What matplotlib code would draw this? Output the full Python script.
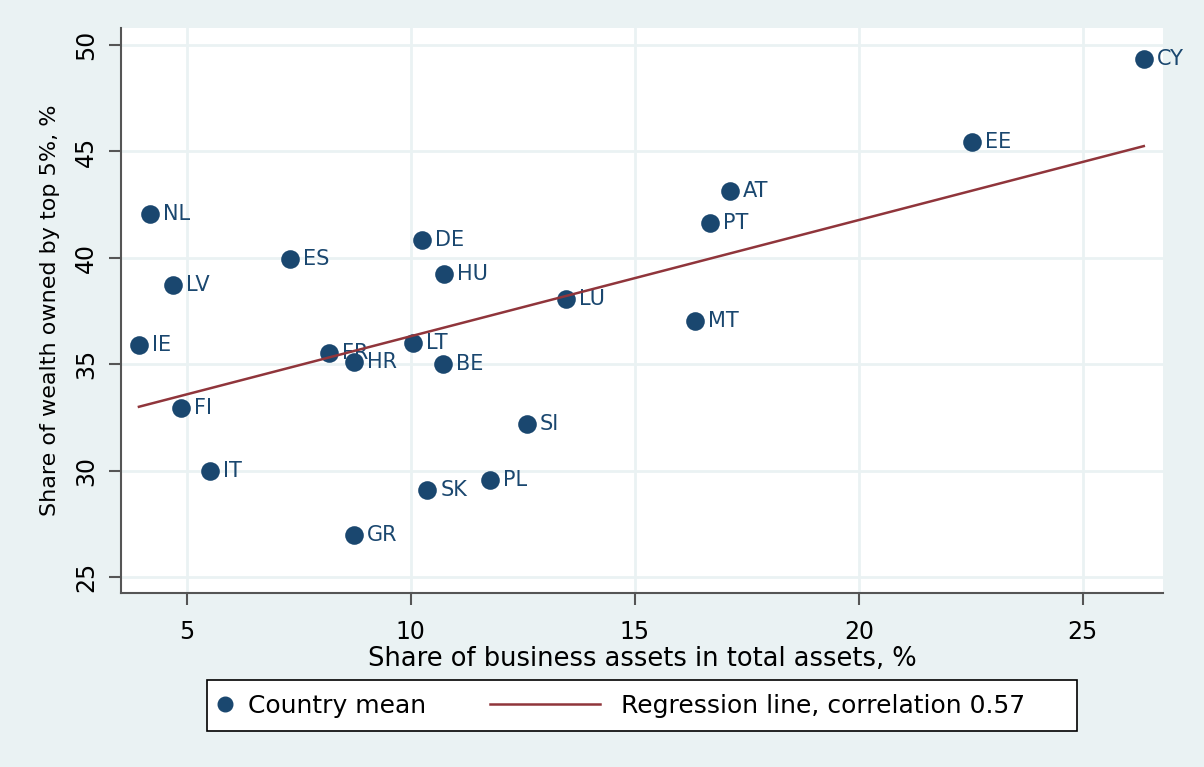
import numpy as np
import matplotlib.pyplot as plt
from matplotlib.lines import Line2D
from matplotlib.patches import Rectangle
from matplotlib.legend_handler import HandlerLine2D

# country means: business asset share (x) vs wealth share of top 5% (y)
countries = ["CY", "EE", "AT", "PT", "NL", "DE", "ES", "HU", "LV", "LU", "MT",
             "IE", "LT", "FR", "HR", "BE", "FI", "SI", "IT", "PL", "SK", "GR"]
business_share = [26.36, 22.52, 17.12, 16.67, 4.17, 10.25, 7.30, 10.74, 4.69, 13.46, 16.34,
                  3.93, 10.04, 8.17, 8.73, 10.71, 4.87, 12.59, 5.51, 11.76, 10.36, 8.73]
top5_share = [49.34, 45.44, 43.14, 41.64, 42.06, 40.84, 39.94, 39.24, 38.72, 38.06, 37.03,
              35.90, 36.00, 35.53, 35.10, 35.01, 32.94, 32.19, 29.98, 29.56, 29.09, 26.97]

# fitted regression line end points
fit_x = [3.93, 26.36]
fit_y = [33.00, 45.25]

xticks = [5, 10, 15, 20, 25]
yticks = [25, 30, 35, 40, 45, 50]

navy = "#1a476f"
maroon = "#90353b"
bg = "#eaf2f3"
axis_grey = "#555555"


class LongLineHandler(HandlerLine2D):
    """Legend line key that reaches further left than its handle box."""
    def __init__(self, left, right, **kw):
        super().__init__(**kw)
        self.left = left
        self.right = right

    def get_xdata(self, legend, xdescent, ydescent, width, height, fontsize):
        xdata = np.array([-xdescent + self.left * fontsize, -xdescent + self.right * fontsize])
        return xdata, xdata


fig = plt.figure(figsize=(12.04, 7.67), dpi=100, facecolor=bg)
ax = fig.add_axes([0.1005, 0.2269, 0.8655, 0.7366])
ax.set_facecolor("white")

ax.scatter(business_share, top5_share, s=180, color=navy, zorder=3, linewidths=0)
for name, x, y in zip(countries, business_share, top5_share):
    ax.annotate(name, (x, y), xytext=(9.5, 0), textcoords="offset points",
                ha="left", va="center", fontsize=15, color=navy, family="DejaVu Sans")
ax.plot(fit_x, fit_y, color=maroon, lw=1.8, zorder=4)

ax.set_xlim(3.53, 26.79)
ax.set_ylim(24.25, 50.8)
ax.set_xticks(xticks)
ax.set_yticks(yticks)
ax.grid(True, color=bg, lw=2)
ax.set_axisbelow(True)

for side in ["top", "right"]:
    ax.spines[side].set_visible(False)
for side in ["left", "bottom"]:
    ax.spines[side].set_color(axis_grey)
    ax.spines[side].set_linewidth(1.5)

ax.tick_params(length=8.6, width=1.5, color=axis_grey, labelsize=17)
ax.tick_params(axis="x", pad=11)
ax.tick_params(axis="y", pad=8)
plt.setp(ax.get_yticklabels(), rotation=90, va="center")
ax.set_xlabel("Share of business assets in total assets, %", fontsize=18.5, labelpad=1)
ax.set_ylabel("Share of wealth owned by top 5%, %", fontsize=16, labelpad=10)

# legend: frame drawn separately so it can be wider than its contents
fig.patches.append(Rectangle((207 / 1204, 1 - 731 / 767), 870 / 1204, 51 / 767,
                             transform=fig.transFigure, facecolor="white",
                             edgecolor="black", lw=1.2, zorder=0))
mean_key = Line2D([], [], ls="none", marker="o", ms=10.5, color=navy)
fit_key = Line2D([], [], color=maroon, lw=1.8)
fig.legend([mean_key, fit_key], ["Country mean", "Regression line, correlation 0.57"],
           loc="center left", bbox_to_anchor=(218 / 1204, 1 - 705.5 / 767), ncol=2,
           fontsize=18, frameon=False, borderpad=0, borderaxespad=0, handlelength=0.56,
           handletextpad=0.64, columnspacing=6.6,
           handler_map={fit_key: LongLineHandler(-4.04, 0.36)})

fig.savefig("out.png", dpi=100, facecolor=bg)
